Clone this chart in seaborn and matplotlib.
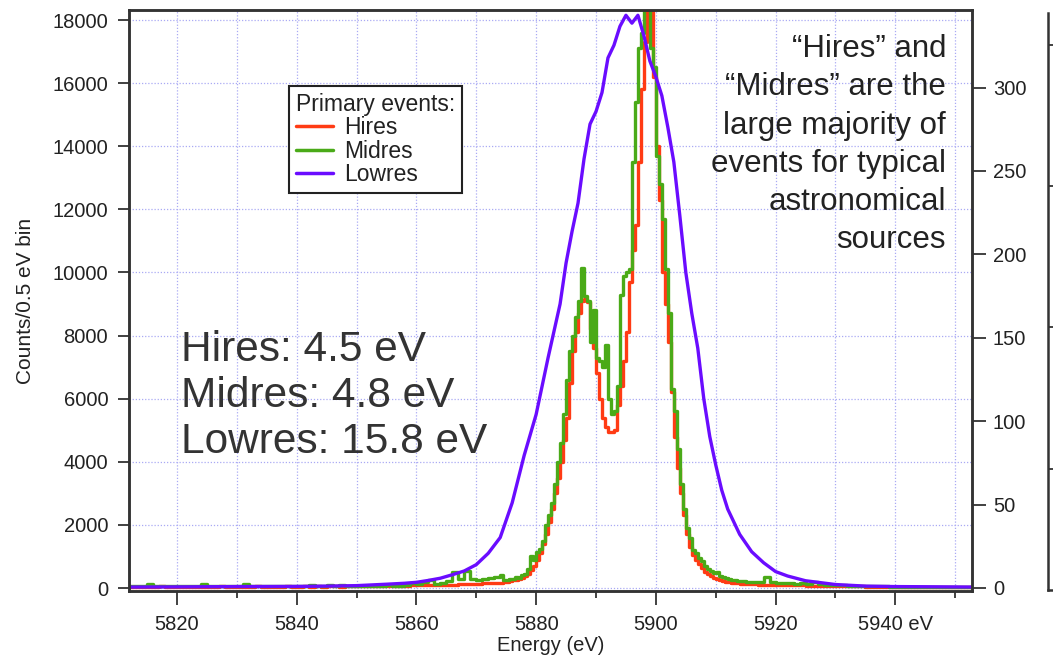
import matplotlib

matplotlib.use("Agg")
import matplotlib.pyplot as plt
import numpy as np
import pandas as pd
import seaborn as sns
from matplotlib.lines import Line2D
from matplotlib.ticker import MultipleLocator

# Bin edges (eV): 1 eV in the tails, 0.5 eV across the Mn K-alpha lines
energy_bins = np.concatenate(
    [np.arange(5812, 5874, 1.0), np.arange(5874, 5914, 0.5), np.arange(5914, 5953, 1.0)]
)
bin_end = 5953.0

# Hires counts per bin
hires_counts = [
    # 5812-5839
    40, 35, 45, 30, 40, 50, 35, 40, 45, 30, 40, 35, 45, 40, 30, 50, 40, 35, 45, 40,
    35, 50, 40, 45, 35, 40, 50, 45,
    # 5840-5859
    45, 50, 40, 55, 45, 50, 55, 45, 60, 50, 55, 60, 50, 65, 60, 70, 60, 75, 70, 80,
    # 5860-5873
    85, 80, 95, 90, 100, 110, 105, 120, 130, 125, 140, 150, 160, 170,
    # 5874.0-5913.5 (0.5 eV)
    170, 180, 200, 220, 240, 260, 290, 330, 380, 450,
    560, 700, 900, 1100, 1400, 1700, 2100, 2500, 3000, 3500,
    4000, 4700, 5400, 6500, 7500, 8100, 8700, 9100, 9150, 9050,
    8200, 7600, 6800, 6000, 5400, 5100, 4950, 4950, 5000, 5800,
    6400, 7200, 8100, 9700, 10700, 11500, 13500, 15800, 17300, 19500,
    19500, 16200, 14000, 12300, 10000, 9000, 7800, 6200, 4800, 3800,
    3000, 2300, 1700, 1300, 1050, 900, 750, 620, 520, 440,
    380, 320, 280, 250, 220, 200, 180, 170, 160, 150,
    # 5914-5952
    140, 130, 120, 110, 110, 100, 100, 90, 90, 80,
    80, 75, 70, 70, 65, 60, 60, 55, 55, 50,
    50, 45, 45, 40, 40, 40, 35, 35, 35, 30,
    30, 30, 30, 30, 30, 25, 25, 25, 25,
]

# Midres counts per bin
midres_counts = [
    # 5812-5839
    50, 60, 70, 130, 60, 50, 70, 60, 50, 60, 70, 60, 130, 60, 50, 60, 70, 60, 50, 120,
    60, 70, 50, 60, 70, 60, 50, 70,
    # 5840-5859
    60, 50, 110, 70, 60, 100, 60, 90, 70, 60, 70, 60, 50, 70, 60, 80, 70, 60, 90, 160,
    # 5860-5873
    120, 180, 250, 140, 160, 220, 500, 300, 550, 280, 250, 300, 330, 350,
    # 5874.0-5913.5 (0.5 eV)
    400, 250, 260, 300, 280, 350, 330, 420, 450, 600,
    1000, 900, 1150, 1250, 1500, 2000, 2300, 2700, 3300, 4000,
    4600, 5500, 6600, 7500, 8000, 8600, 9100, 10150, 9250, 9100,
    7800, 8800, 7300, 7200, 7000, 7700, 6000, 5500, 5600, 6400,
    9300, 9900, 10000, 10100, 13500, 15400, 17100, 17600, 19500, 19500,
    17100, 16500, 13700, 12800, 11700, 10100, 8700, 6300, 5600, 4400,
    3300, 2500, 1900, 1600, 1200, 1100, 950, 850, 700, 600,
    550, 480, 520, 380, 350, 320, 300, 260, 250, 230,
    # 5914-5952
    220, 200, 190, 180, 350, 200, 170, 160, 150, 140,
    150, 130, 200, 120, 110, 100, 90, 80, 75, 70,
    65, 60, 55, 50, 50, 45, 45, 40, 40, 40,
    35, 35, 35, 30, 30, 30, 30, 30, 30,
]

# Lowres curve
lowres_energy = [
    5812, 5820, 5830, 5840, 5845, 5850, 5855, 5858, 5860, 5862,
    5864, 5866, 5868, 5870, 5872, 5874, 5876, 5878, 5880, 5882,
    5884, 5885, 5886, 5887, 5888, 5889, 5890, 5891, 5892, 5893,
    5894, 5895, 5896, 5897, 5898, 5899, 5900, 5901, 5902, 5903,
    5904, 5905, 5906, 5907, 5908, 5909, 5910, 5911, 5912, 5914,
    5916, 5918, 5920, 5922, 5925, 5930, 5935, 5940, 5945, 5953,
]
lowres_counts = [
    30, 35, 45, 50, 60, 75, 120, 150, 180, 240,
    310, 420, 540, 740, 1100, 1600, 2700, 4200, 5500, 7300,
    9000, 10300, 11300, 12200, 13600, 14700, 15100, 15700, 16800, 17200,
    17800, 18150, 17900, 18150, 17500, 16700, 16200, 15600, 14600, 13500,
    11800, 10000, 8700, 7600, 6000, 4800, 3900, 3100, 2500, 1700,
    1150, 800, 520, 380, 230, 110, 60, 45, 40, 30,
]

series_names = ["Hires", "Midres", "Lowres"]
series_colors = {"Hires": "#ff3b14", "Midres": "#4aaa18", "Lowres": "#6a0cff"}

x_ticks = [5820, 5840, 5860, 5880, 5900, 5920, 5940]
x_tick_labels = ["5820", "5840", "5860", "5880", "5900", "5920", "5940 eV"]
y_ticks = list(range(0, 18001, 2000))
y2_ticks = list(range(0, 301, 50))

resolution_text = "Hires: 4.5 eV\nMidres: 4.8 eV\nLowres: 15.8 eV"
note_text = (
    "\u201cHires\u201d and\n\u201cMidres\u201d are the\nlarge majority of\n"
    "events for typical\nastronomical\nsources"
)

# long table for the step histograms
edges_ext = np.append(energy_bins, bin_end)
df_steps = pd.DataFrame(
    {
        "energy": np.concatenate([edges_ext, edges_ext]),
        "counts": hires_counts + [hires_counts[-1]] + midres_counts + [midres_counts[-1]],
        "type": ["Hires"] * len(edges_ext) + ["Midres"] * len(edges_ext),
    }
)
df_low = pd.DataFrame({"energy": lowres_energy, "counts": lowres_counts})

sns.set_theme(style="ticks")
plt.rcParams["font.family"] = ["Liberation Sans", "DejaVu Sans"]
plt.rcParams["text.color"] = "#222222"
plt.rcParams["axes.labelcolor"] = "#222222"
plt.rcParams["xtick.color"] = "#333333"
plt.rcParams["ytick.color"] = "#333333"
plt.rcParams["xtick.labelcolor"] = "#222222"
plt.rcParams["ytick.labelcolor"] = "#222222"

frame_col = "#333333"
grid_col = "#aaaaf4"

fig = plt.figure(figsize=(10.53, 6.59), dpi=100)
ax = fig.add_axes([129 / 1053, 1 - 591 / 659, (972 - 129) / 1053, (591 - 10) / 659])

sns.lineplot(
    data=df_steps,
    x="energy",
    y="counts",
    hue="type",
    hue_order=["Hires", "Midres"],
    palette=series_colors,
    drawstyle="steps-post",
    estimator=None,
    linewidth=2.4,
    legend=False,
    ax=ax,
)
sns.lineplot(
    data=df_low,
    x="energy",
    y="counts",
    color=series_colors["Lowres"],
    linewidth=2.4,
    legend=False,
    ax=ax,
)

ax.set_xlim(5812.0, 5952.8)
ax.set_ylim(-95, 18317)
ax.set_xticks(x_ticks)
ax.set_xticklabels(x_tick_labels)
ax.xaxis.set_minor_locator(MultipleLocator(10))
ax.set_yticks(y_ticks)
ax.set_yticklabels([str(v) for v in y_ticks])

ax.grid(True, which="both", axis="x", color=grid_col, linestyle=(0, (1, 1.5)), linewidth=0.9)
ax.grid(True, which="major", axis="y", color=grid_col, linestyle=(0, (1, 1.5)), linewidth=0.9)
ax.set_axisbelow(True)

ax.tick_params(axis="x", which="major", direction="out", length=10, width=1.3, pad=7, labelsize=14.5)
ax.tick_params(axis="x", which="minor", direction="out", length=5, width=1.3)
ax.tick_params(axis="y", direction="out", length=8, width=1.3, pad=7, labelsize=14.5)

for sp in ax.spines.values():
    sp.set_color(frame_col)
    sp.set_linewidth(1.8)

ax.set_xlabel("Energy (eV)", fontsize=14.5, labelpad=2)
ax.set_ylabel("Counts/0.5 eV bin", fontsize=15)
ax.yaxis.set_label_coords(-0.112, 0.5)

# right-hand axis
ax2 = ax.twinx()
ax2.set_ylim(-1.8, 346.5)
ax2.set_yticks(y2_ticks)
ax2.set_yticklabels([str(v) for v in y2_ticks])
ax2.tick_params(axis="y", direction="out", length=10, width=1.3, pad=5, labelsize=14.5)
for sp in ax2.spines.values():
    sp.set_color(frame_col)
    sp.set_linewidth(1.8)

# legend
handles = [Line2D([0], [0], color=series_colors[n], linewidth=2.5) for n in series_names]
leg = fig.legend(
    handles,
    series_names,
    title="Primary events:",
    loc="upper left",
    bbox_to_anchor=(289 / 1053, 1 - 86 / 659),
    fontsize=16.5,
    title_fontsize=16.5,
    frameon=True,
    fancybox=False,
    framealpha=1,
    edgecolor="#222222",
    borderpad=0.3,
    labelspacing=0.02,
    handlelength=1.6,
    handletextpad=0.5,
    borderaxespad=0,
    alignment="left",
)
leg.get_frame().set_linewidth(1.5)

fig.text(181 / 1053, 1 - 396 / 659, resolution_text, fontsize=30.5, color="#333333",
         ha="left", va="center", linespacing=1.2)
fig.text(946 / 1053, 1 - 34 / 659, note_text, fontsize=22.5, color="#222222",
         ha="right", va="top", linespacing=1.36)

# edge of the neighbouring panel, cut off at the right border
ax3 = fig.add_axes([1048 / 1053, 1 - 590 / 659, 0.05, 577 / 659])
ax3.set_xlim(0, 1)
ax3.set_ylim(0, 1)
ax3.set_xticks([])
ax3.set_yticks([0.21, 0.455, 0.70, 0.945])
ax3.set_yticklabels([])
ax3.tick_params(axis="y", direction="in", length=6, width=1.3)
ax3.spines["top"].set_visible(False)
ax3.spines["right"].set_visible(False)
for sp in ("left", "bottom"):
    ax3.spines[sp].set_color(frame_col)
    ax3.spines[sp].set_linewidth(1.8)
ax3.patch.set_alpha(0)

fig.savefig("out.png", dpi=100)
